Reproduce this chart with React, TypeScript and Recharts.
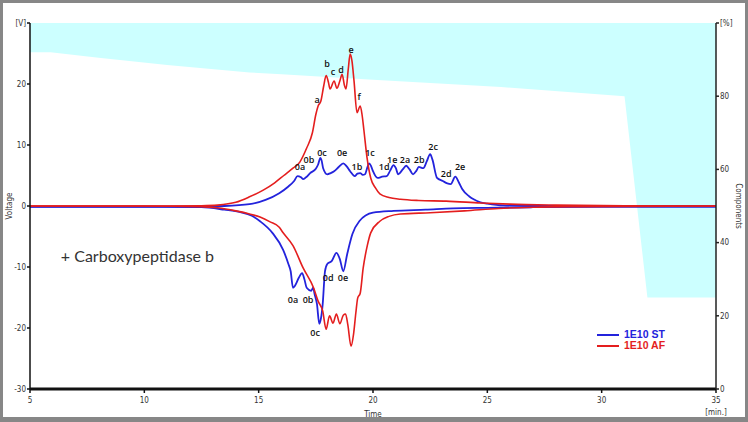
import React from 'react';
import { ComposedChart, Line, Area, XAxis, YAxis, ReferenceDot } from 'recharts';

// ---- data ----
const timeTicks = [5, 10, 15, 20, 25, 30, 35];
const voltTicks = [-30, -20, -10, 0, 10, 20, 30];
const pctTicks = [0, 20, 40, 60, 80, 100];

// gradient (% components) : [time, %]
const gradientPct: [number, number][] = [
  [5, 92], [5.9, 92], [8, 90.5], [11, 88.5], [14.6, 86.5], [16, 86], [20, 84.5],
  [25.6, 82.5], [31, 80], [32, 25], [35, 25],
];

// 1E10 ST upper trace : [time, V]
const stUpper: [number, number][] = [
  [5, -0.1], [10, -0.1], [12, -0.1], [13.5, 0], [14.6, 0.3], [15.3, 1.0], [15.9, 2.1],
  [16.3, 3.2], [16.55, 4.1], [16.7, 4.9], [16.85, 4.7], [16.95, 4.4], [17.1, 4.8],
  [17.25, 5.4], [17.5, 6.1], [17.6, 6.8], [17.7, 7.9], [17.75, 7.5], [17.82, 6.2],
  [18.0, 5.2], [18.15, 5.4], [18.3, 5.7], [18.5, 6.4], [18.7, 7.0], [18.85, 6.5],
  [19.0, 5.7], [19.2, 4.9], [19.32, 5.3], [19.44, 5.4], [19.55, 5.1], [19.65, 5.2],
  [19.75, 6.3], [19.83, 7.0], [19.92, 6.5], [20.0, 5.7], [20.2, 4.6], [20.4, 4.8],
  [20.6, 4.9], [20.75, 5.8], [20.9, 6.7], [21.0, 6.2], [21.1, 5.2], [21.3, 6.0],
  [21.45, 6.6], [21.6, 6.0], [21.75, 5.2], [21.9, 5.8], [22.0, 6.4], [22.2, 6.2],
  [22.35, 7.3], [22.5, 8.5], [22.6, 7.6], [22.8, 4.6], [23.05, 4.1], [23.25, 3.7],
  [23.4, 3.6], [23.6, 4.8], [23.75, 3.9], [23.9, 2.8], [24.2, 1.6], [24.4, 1.1],
  [24.7, 0.6], [25, 0.4], [25.7, 0.1], [27, 0], [35, 0],
];

// 1E10 AF upper trace
const afUpper: [number, number][] = [
  [5, 0], [8, 0], [11, 0], [12.5, 0.05], [13.2, 0.15], [14, 0.6], [14.6, 1.5],
  [15.2, 2.6], [15.7, 3.8], [16.1, 5.0], [16.5, 6.2], [16.8, 7.2], [17.1, 9.5],
  [17.35, 12.0], [17.5, 15.0], [17.6, 16.4], [17.72, 17.2], [17.85, 19.8], [17.95, 21.4],
  [18.05, 20.3], [18.12, 19.2], [18.3, 20.5], [18.42, 19.3], [18.55, 20.5], [18.65, 21.6],
  [18.75, 19.8], [18.82, 19.2], [18.92, 22.5], [19.0, 24.9], [19.08, 23.8], [19.17, 20.5],
  [19.3, 15.3], [19.44, 16.4], [19.52, 15.0], [19.6, 12.5], [19.74, 7.9], [19.9, 4.6],
  [20.1, 3.0], [20.3, 2.0], [20.7, 1.4], [21.2, 1.1], [22, 0.9], [23.2, 0.8],
  [24.7, 0.5], [26, 0.3], [28, 0.15], [31, 0.05], [35, 0],
];

// 1E10 ST lower trace
const stLower: [number, number][] = [
  [5, -0.15], [10, -0.15], [12.5, -0.2], [13.5, -0.6], [14.2, -1.0], [14.7, -1.6],
  [15.06, -2.5], [15.6, -4.4], [16.07, -7.2], [16.3, -9.5], [16.4, -10.7], [16.5, -13.4],
  [16.6, -13.0], [16.75, -11.8], [16.9, -11.0], [17.0, -12.0], [17.1, -13.4], [17.3, -13.9],
  [17.38, -13.4], [17.45, -14.5], [17.55, -16.1], [17.65, -19.3], [17.72, -18.5],
  [17.8, -16.1], [17.9, -10.7], [18.0, -9.5], [18.2, -9.0], [18.4, -7.7], [18.55, -8.7],
  [18.7, -10.7], [18.87, -7.9], [19.1, -4.6], [19.4, -2.5], [20.0, -1.1], [20.9, -0.8],
  [22.3, -0.6], [23.5, -0.4], [25, -0.3], [27, -0.2], [30, -0.15], [35, -0.15],
];

// 1E10 AF lower trace
const afLower: [number, number][] = [
  [5, 0], [10, 0], [12.5, -0.1], [13.2, -0.3], [14, -0.8], [14.6, -1.3], [15.06, -1.8],
  [15.5, -2.6], [15.9, -3.5], [16.07, -4.4], [16.5, -6.5], [16.95, -10.2], [17.4, -13.4],
  [17.6, -15.6], [17.8, -17.2], [17.95, -20.2], [18.1, -18.0], [18.25, -19.2], [18.4, -17.7],
  [18.55, -19.3], [18.7, -17.9], [18.8, -17.7], [18.9, -19.5], [19.04, -23.0], [19.15, -21.0],
  [19.25, -17.5], [19.33, -15.1], [19.44, -14.3], [19.57, -10.2], [19.75, -6.5], [19.9, -4.4],
  [20.3, -2.5], [20.7, -1.7], [21.2, -1.3], [22.5, -1.1], [24, -0.8], [25.5, -0.4],
  [27, -0.2], [29, -0.1], [35, 0],
];

// peak labels [time, V, text]
const afPeakLabels: [number, number, string][] = [
  [17.56, 17.5, 'a'], [17.99, 23.4, 'b'], [18.25, 22.1, 'c'], [18.6, 22.3, 'd'],
  [19.04, 25.7, 'e'], [19.39, 17.9, 'f'],
];
const stPeakLabels: [number, number, string][] = [
  [16.81, 6.4, '0a'], [17.2, 7.7, '0b'], [17.77, 8.7, '0c'], [18.65, 8.7, '0e'],
  [19.3, 6.4, '1b'], [19.87, 8.7, '1c'], [20.49, 6.4, '1d'], [20.84, 7.7, '1e'],
  [21.4, 7.7, '2a'], [22.02, 7.7, '2b'], [22.63, 9.8, '2c'], [23.2, 5.4, '2d'],
  [23.81, 6.4, '2e'],
];
const lowerPeakLabels: [number, number, string][] = [
  [16.5, -15.25, '0a'], [17.16, -15.25, '0b'], [17.47, -20.8, '0c'], [18.04, -11.8, '0d'],
  [18.69, -11.8, '0e'],
];
const annotation = { t: 6.35, v: -8.1, text: '+ Carboxypeptidase b' };
const seriesNames = ['1E10 ST', '1E10 AF'];

// ---- styles ----
const BLUE = '#2323dc';
const RED = '#e41e1e';
const CYAN = '#ccffff';
const TICK_FONT = "'DejaVu Sans Condensed', 'Liberation Sans Narrow', 'Liberation Sans', sans-serif";
const toRows = (arr: [number, number][], key: string) => arr.map(([t, v]) => ({ t, [key]: v }));

const TimeTick = (p: any) => {
  const { x, y, payload } = p;
  return (
    <g>
      <text x={x} y={y} dy="0.71em" textAnchor="middle" fontSize={8} fill="#333" fontFamily={TICK_FONT}>
        {payload.value}
      </text>
      {payload.value === 35 && (
        <text x={x} y={y + 12} dy="0.71em" textAnchor="middle" fontSize={8} fill="#333" fontFamily={TICK_FONT}>
          [min.]
        </text>
      )}
    </g>
  );
};

const peakShape = (text: string) => (p: any) => (
  <text x={p.cx} y={p.cy} textAnchor="middle" dominantBaseline="central" fontSize={9}
    fontFamily="'Open Sans', 'Liberation Sans', sans-serif" fontWeight={600} fill="#111">
    {text}
  </text>
);

export default function App() {
  return (
    <div style={{ position: 'absolute', left: 0, top: 0, width: 748, height: 422, background: '#fff' }}>
      <ComposedChart width={748} height={422} margin={{ top: 23, right: 0, bottom: 0, left: 0 }}>
        <XAxis
          xAxisId={0}
          dataKey="t"
          type="number"
          domain={[5, 35]}
          ticks={timeTicks}
          allowDataOverflow
          height={33}
          tickSize={4}
          tickMargin={4}
          tick={<TimeTick />}
          tickLine={{ stroke: '#111', strokeWidth: 1.5 }}
          axisLine={{ stroke: '#111', strokeWidth: 3 }}
          label={{ value: 'Time', position: 'insideBottom', offset: 5, fontSize: 8, fill: '#333', fontFamily: TICK_FONT }}
        />
        <XAxis
          xAxisId="top"
          orientation="top"
          dataKey="t"
          type="number"
          domain={[5, 35]}
          height={0}
          tick={false}
          tickLine={false}
          axisLine={{ stroke: '#8c8c8c', strokeWidth: 1.5 }}
        />
        <YAxis
          yAxisId="v"
          type="number"
          domain={[-30, 30]}
          ticks={voltTicks}
          allowDataOverflow
          width={30}
          tickSize={3}
          tickMargin={1}
          tickFormatter={(v: number) => (v === 30 ? '[V]' : String(v))}
          tick={{ fontSize: 8, fill: '#333', fontFamily: TICK_FONT }}
          tickLine={{ stroke: '#111', strokeWidth: 1.5 }}
          axisLine={{ stroke: '#111', strokeWidth: 1.5 }}
          label={{ value: 'Voltage', angle: -90, position: 'insideLeft', offset: 9, fontSize: 8, fill: '#333', fontFamily: TICK_FONT, style: { textAnchor: 'middle' } }}
        />
        <YAxis
          yAxisId="pct"
          orientation="right"
          type="number"
          domain={[0, 100]}
          ticks={pctTicks}
          width={32}
          tickSize={3}
          tickMargin={1}
          tickFormatter={(v: number) => (v === 100 ? '[%]' : String(v))}
          tick={{ fontSize: 8, fill: '#333', fontFamily: TICK_FONT }}
          tickLine={{ stroke: '#222', strokeWidth: 1.5 }}
          axisLine={{ stroke: '#222', strokeWidth: 1.5 }}
          label={{ value: 'Components', angle: 90, position: 'insideRight', offset: 9, fontSize: 8, fill: '#333', fontFamily: TICK_FONT, style: { textAnchor: 'middle' } }}
        />

        <Area
          yAxisId="pct"
          data={toRows(gradientPct, 'pct')}
          dataKey="pct"
          type="linear"
          baseValue={100}
          fill={CYAN}
          fillOpacity={1}
          stroke="none"
          isAnimationActive={false}
        />

        <Line yAxisId="v" data={toRows(stLower, 'v')} dataKey="v" type="monotone" stroke={BLUE} strokeWidth={1.8} dot={false} isAnimationActive={false} />
        <Line yAxisId="v" data={toRows(stUpper, 'v')} dataKey="v" type="monotone" stroke={BLUE} strokeWidth={1.8} dot={false} isAnimationActive={false} />
        <Line yAxisId="v" data={toRows(afLower, 'v')} dataKey="v" type="monotone" stroke={RED} strokeWidth={1.6} dot={false} isAnimationActive={false} />
        <Line yAxisId="v" data={toRows(afUpper, 'v')} dataKey="v" type="monotone" stroke={RED} strokeWidth={1.6} dot={false} isAnimationActive={false} />

        {[...afPeakLabels, ...stPeakLabels, ...lowerPeakLabels].map(([t, v, text], i) => (
          <ReferenceDot key={i} yAxisId="v" x={t} y={v} r={0} ifOverflow="visible" shape={peakShape(text)} />
        ))}
        <ReferenceDot
          yAxisId="v"
          x={annotation.t}
          y={annotation.v}
          r={0}
          ifOverflow="visible"
          shape={(p: any) => (
            <text x={p.cx} y={p.cy} textAnchor="start" dominantBaseline="central" fontSize={16}
              fontFamily="Lato, 'Open Sans', sans-serif" fill="#333">
              {annotation.text}
            </text>
          )}
        />
      </ComposedChart>

      {/* legend */}
      <div style={{ position: 'absolute', left: 597, top: 329, fontFamily: "'Liberation Sans', Arial, sans-serif", fontWeight: 700, fontSize: 10.5, lineHeight: '11px' }}>
        {seriesNames.map((name, i) => (
          <div key={name} style={{ display: 'flex', alignItems: 'center', height: 11 }}>
            <div style={{ width: 22, height: 0, borderTop: `2px solid ${i === 0 ? BLUE : RED}`, marginRight: 5 }} />
            <span style={{ color: i === 0 ? BLUE : RED }}>{name}</span>
          </div>
        ))}
      </div>

      {/* frame */}
      <div style={{ position: 'absolute', left: 0, top: 0, width: 748, height: 422, boxSizing: 'border-box', borderStyle: 'solid', borderColor: '#878787', borderWidth: '3px 3px 5px 3px', pointerEvents: 'none' }} />
    </div>
  );
}
